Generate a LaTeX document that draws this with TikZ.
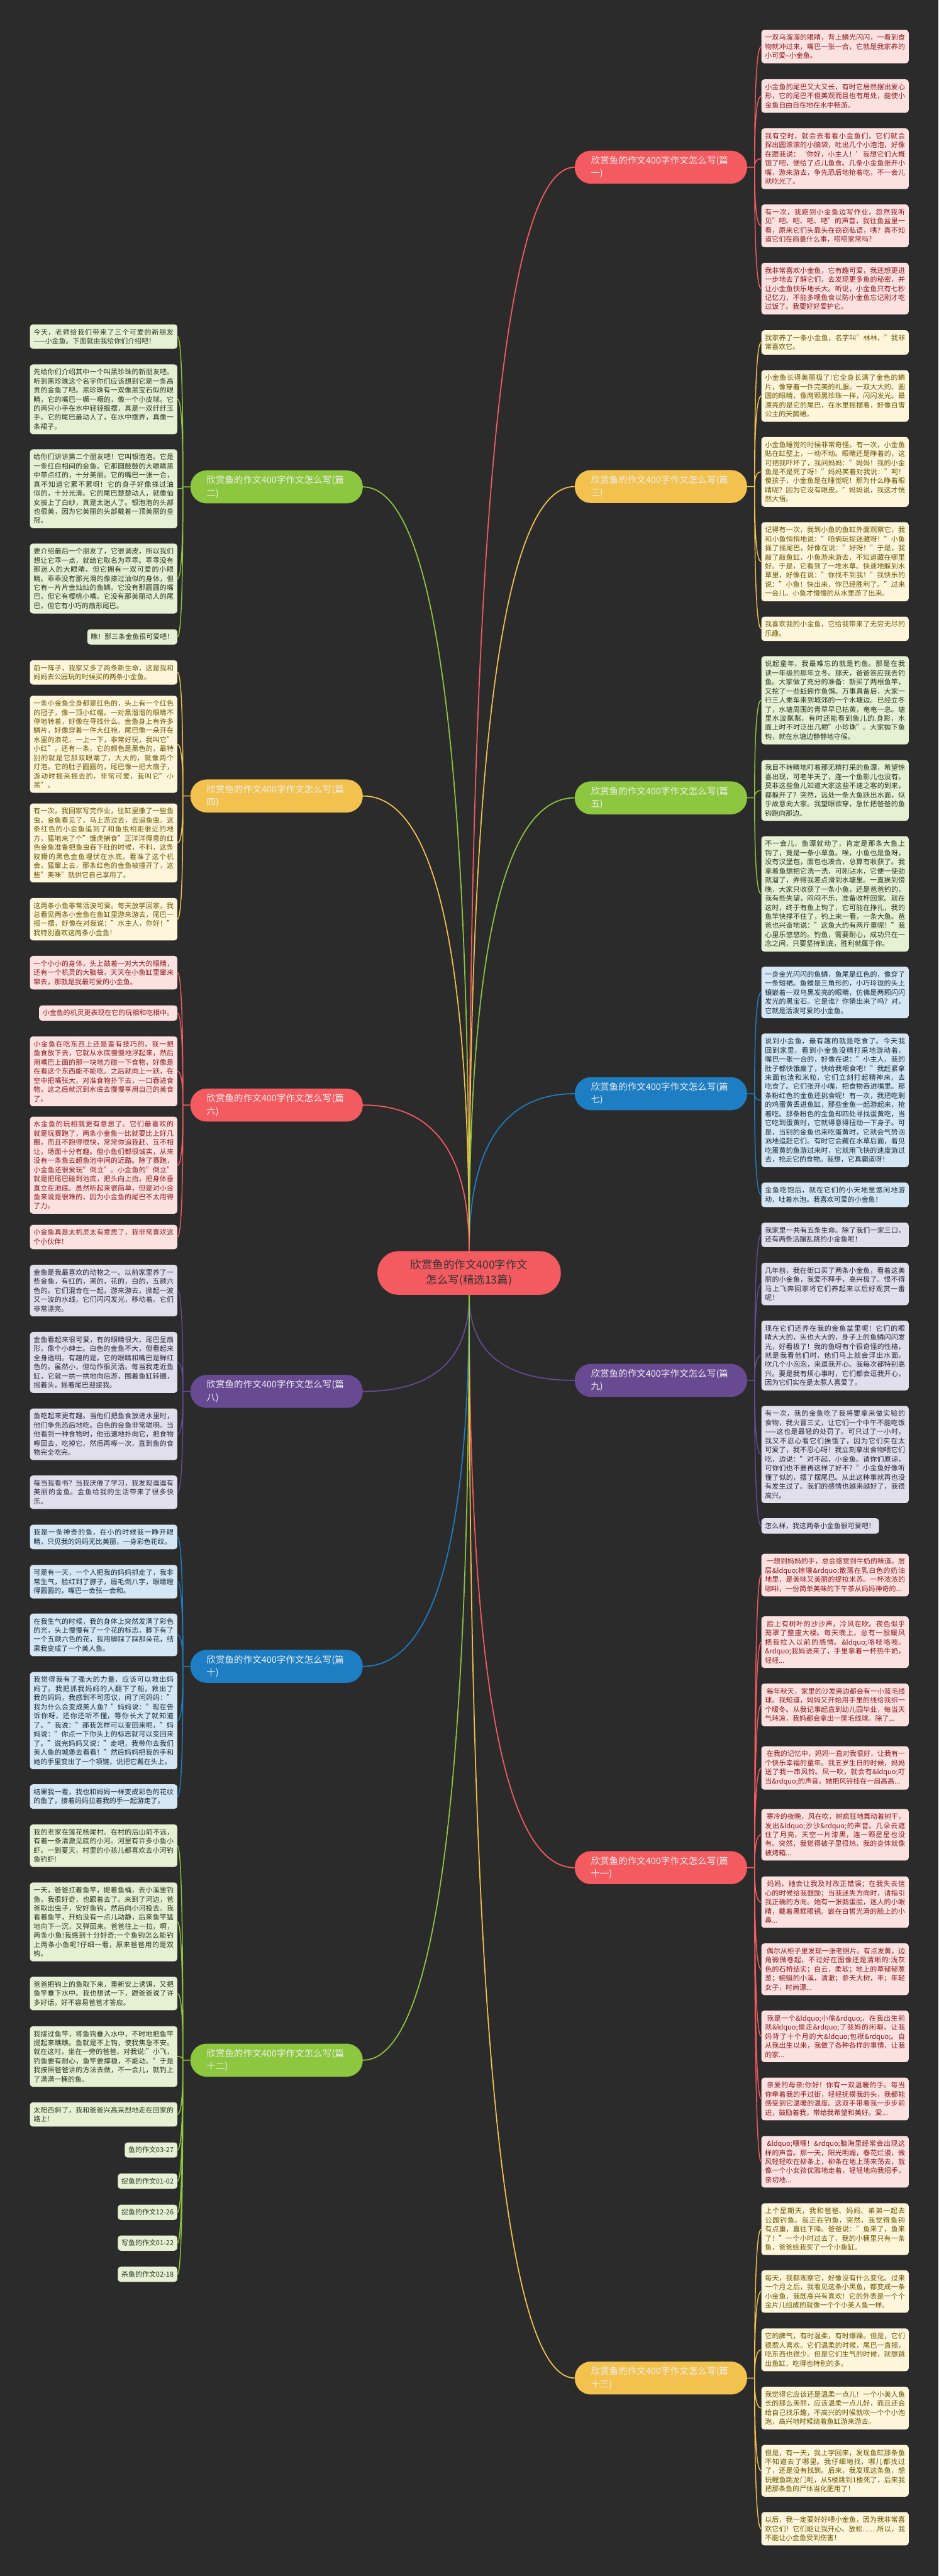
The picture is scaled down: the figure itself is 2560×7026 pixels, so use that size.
\documentclass[tikz,border=0pt]{standalone}
\usepackage{fontspec}
\setmainfont{Noto Sans CJK SC}
\XeTeXlinebreaklocale "zh"
\XeTeXlinebreakskip=0pt plus 1pt
\usetikzlibrary{positioning,calc}

\definecolor{bg}{HTML}{2B2B2B}
\definecolor{lRed}{HTML}{F45B60}
\definecolor{lYel}{HTML}{F2C14E}
\definecolor{lGrn}{HTML}{8DC63F}
\definecolor{lBlu}{HTML}{1D7EC3}
\definecolor{lPur}{HTML}{684A92}
\definecolor{fRed}{HTML}{FCE1E1}
\definecolor{fYel}{HTML}{FEF6DA}
\definecolor{fGrn}{HTML}{E6F1D4}
\definecolor{fBlu}{HTML}{D5E7F5}
\definecolor{fPur}{HTML}{E2DFED}
\definecolor{tRed}{HTML}{8B1A1A}
\definecolor{tYel}{HTML}{6B5300}
\definecolor{tGrn}{HTML}{2A3320}
\definecolor{tBlu}{HTML}{1C2833}
\definecolor{tPur}{HTML}{28243A}

\begin{document}
\begin{tikzpicture}[x=0.5pt,y=-0.5pt,
  leaf/.style={rounded corners=4pt,inner xsep=5pt,inner ysep=6pt,
    font=\fontsize{9.4pt}{12.4pt}\selectfont},
  wide/.style={text width=191pt,align=justify},
  rl/.style={leaf,anchor=west},
  ll/.style={leaf,anchor=east},
  red/.style={fill=fRed,text=tRed},
  yel/.style={fill=fYel,text=tYel},
  grn/.style={fill=fGrn,text=tGrn},
  blu/.style={fill=fBlu,text=tBlu},
  pur/.style={fill=fPur,text=tPur},
  branch/.style={rounded corners=22pt,fill=#1,text=white!94!black,text width=191pt,align=left,
    inner xsep=22pt,inner ysep=6pt,minimum height=45pt,
    font=\fontsize{12.35pt}{17.5pt}\selectfont},
  % centre to branch: vertical first, then into the branch
  trunk/.style={line width=1.5pt,draw=#1,to path={.. controls
    ($(\tikztostart)!.667!(\tikztostart |- \tikztotarget)$) and
    ($(\tikztotarget)!.667!(\tikztostart |- \tikztotarget)$) .. (\tikztotarget)}},
  % branch to leaf, right side and left side
  twigR/.style={line width=1.25pt,draw=#1,to path={-- ++(20,0) coordinate (s) .. controls
    ($(s)!.667!(s |- \tikztotarget)$) and ($(\tikztotarget)!.667!(s |- \tikztotarget)$) .. (\tikztotarget)}},
  twigL/.style={line width=1.25pt,draw=#1,to path={-- ++(-20,0) coordinate (s) .. controls
    ($(s)!.667!(s |- \tikztotarget)$) and ($(\tikztotarget)!.667!(s |- \tikztotarget)$) .. (\tikztotarget)}}]

  % canvas
  \fill[bg] (0,0) rectangle (2560,7026);
  \useasboundingbox (0,0) rectangle (2560,7026);

  % centre
  \node[rounded corners=29pt,fill=lRed,text=black!80,align=center,minimum width=250pt,minimum height=59.5pt,
        inner sep=4pt,font=\fontsize{15pt}{20.5pt}\selectfont]
    (C) at (1279.5,3472) {欣赏鱼的作文400字作文\\怎么写(精选13篇)};

  % branches, right
  \node[branch=lRed,anchor=east] (B1) at (2038,456) {欣赏鱼的作文400字作文怎么写(篇一)};
  \node[branch=lYel,anchor=east] (B3) at (2038,1327) {欣赏鱼的作文400字作文怎么写(篇三)};
  \node[branch=lGrn,anchor=east] (B5) at (2038,2176) {欣赏鱼的作文400字作文怎么写(篇五)};
  \node[branch=lBlu,anchor=east] (B7) at (2038,2983) {欣赏鱼的作文400字作文怎么写(篇七)};
  \node[branch=lPur,anchor=east] (B9) at (2038,3765) {欣赏鱼的作文400字作文怎么写(篇九)};
  \node[branch=lRed,anchor=east] (B11) at (2038,5094) {欣赏鱼的作文400字作文怎么写(篇十一)};
  \node[branch=lYel,anchor=east] (B13) at (2038,6486) {欣赏鱼的作文400字作文怎么写(篇十三)};

  % branches, left
  \node[branch=lGrn,anchor=west] (B2) at (519,1328) {欣赏鱼的作文400字作文怎么写(篇二)};
  \node[branch=lYel,anchor=west] (B4) at (519,2171) {欣赏鱼的作文400字作文怎么写(篇四)};
  \node[branch=lRed,anchor=west] (B6) at (519,3014) {欣赏鱼的作文400字作文怎么写(篇六)};
  \node[branch=lPur,anchor=west] (B8) at (519,3795) {欣赏鱼的作文400字作文怎么写(篇八)};
  \node[branch=lBlu,anchor=west] (B10) at (519,4545) {欣赏鱼的作文400字作文怎么写(篇十)};
  \node[branch=lGrn,anchor=west] (B12) at (519,5619) {欣赏鱼的作文400字作文怎么写(篇十二)};

  % 篇一
  \node[rl,wide,red] (R1a) at (2076,127) {一双乌溜溜的眼睛，背上鳞光闪闪，一看到食物就冲过来，嘴巴一张一合，它就是我家养的小可爱--小金鱼。};
  \node[rl,wide,red] (R1b) at (2076,262) {小金鱼的尾巴又大又长，有时它居然摆出爱心形，它的尾巴不但美观而且也有用处，能使小金鱼自由自在地在水中畅游。};
  \node[rl,wide,red] (R1c) at (2076,433) {我有空时，就会去看看小金鱼们，它们就会探出圆滚滚的小脑袋，吐出几个小泡泡，好像在跟我说：‘你好，小主人！’我想它们大概饿了吧，便给了点儿鱼食。几条小金鱼张开小嘴，游来游去，争先恐后地抢着吃，不一会儿就吃光了。};
  \node[rl,wide,red] (R1d) at (2076,616) {有一次，我跑到小金鱼边写作业，忽然我听见"吧、吧、吧、吧"的声音，我往鱼盆里一看，原来它们头靠头在窃窃私语，咦？真不知道它们在商量什么事，唠唠家常吗？};
  \node[rl,wide,red] (R1e) at (2076,787) {我非常喜欢小金鱼，它有趣可爱，我还想更进一步地去了解它们，去发现更多鱼的秘密，并让小金鱼快乐地长大。听说，小金鱼只有七秒记忆力，不能多喂鱼食以防小金鱼忘记刚才吃过饭了。我要好好爱护它。};

  % 篇三
  \node[rl,wide,yel] (R3a) at (2076,934) {我家养了一条小金鱼，名字叫"林林，"我非常喜欢它。};
  \node[rl,wide,yel] (R3b) at (2076,1080) {小金鱼长得美丽极了!它全身长满了金色的鳞片，像穿着一件完美的礼服。一双大大的、圆圆的眼睛，像两颗黑珍珠一样，闪闪发光。最漂亮的是它的尾巴，在水里摇摆着，好像白雪公主的天鹅裙。};
  \node[rl,wide,yel] (R3c) at (2076,1287) {小金鱼睡觉的时候非常奇怪。有一次，小金鱼贴在缸壁上，一动不动。眼睛还是睁着的，这可把我吓坏了，我问妈妈："妈妈！我的小金鱼是不是死了呀！"妈妈笑着对我说："呵！傻孩子，小金鱼是在睡觉呢！那为什么睁着眼睛呢？因为它没有眼皮。"妈妈说，我这才恍然大悟。};
  \node[rl,wide,yel] (R3d) at (2076,1532) {记得有一次，我到小鱼的鱼缸外面观察它，我和小鱼悄悄地说："咱俩玩捉迷藏呀！"小鱼摇了摇尾巴，好像在说："好呀！"于是，我敲了敲鱼缸，小鱼游来游去，不知道藏在哪里好。于是，它看到了一堆水草。快速地躲到水草里，好像在说："你找不到我！"我快乐的说："小鱼！快出来，你已经胜利了。"过来一会儿，小鱼才慢慢的从水里游了出来。};
  \node[rl,wide,yel] (R3e) at (2076,1715) {我喜欢我的小金鱼，它给我带来了无穷无尽的乐趣。};

  % 篇五
  \node[rl,wide,grn] (R5a) at (2076,1910) {说起童年，我最难忘的就是钓鱼。那是在我读一年级的那年立冬。那天，爸爸答应我去钓鱼。大家做了充分的准备：新买了两根鱼竿，又挖了一些蚯蚓作鱼饵。万事具备后，大家一行三人乘车来到城郊的一个水塘边。已经立冬了，水塘周围的青草早已枯黄，奄奄一息。塘里水波粼粼，有时还能看到鱼儿的.身影，水面上时不时泛出几颗"小珍珠"。大家抛下鱼钩，就在水塘边静静地守候。};
  \node[rl,wide,grn] (R5b) at (2076,2156) {我目不转睛地盯着那无精打采的鱼漂，希望惊喜出现，可老半天了，连一个鱼影儿也没有。莫非这些鱼儿知道大家这些不速之客的到来，都躲开了？突然，远处一条大鱼跃出水面，似乎故意向大家。我望眼欲穿，急忙把爸爸的鱼钩跑向那边。};
  \node[rl,wide,grn] (R5c) at (2076,2438) {不一会儿，鱼漂就动了，肯定是那条大鱼上钩了，竟是一条小草鱼。唉，小鱼也是鱼呀，没有汉堡包，面包也凑合，总算有收获了。我拿着鱼想把它洗一洗，可刚沾水，它便一使劲就溜了，弄得我差点滑到水塘里。一直挨到傍晚，大家只收获了一条小鱼，还是爸爸钓的，我有些失望，闷闷不乐，准备收杆回家。就在这时，终于有鱼上钩了，它可能在挣扎，我的鱼竿快撑不住了，钓上来一看，一条大鱼。爸爸也兴奋地说："这鱼大约有两斤重呢！"我心里乐悠悠的。钓鱼，需要耐心，成功只在一念之间，只要坚持到底，胜利就属于你。};

  % 篇七
  \node[rl,wide,blu] (R7a) at (2076,2707) {一身金光闪闪的鱼鳞，鱼尾是红色的，像穿了一条短裙。鱼鳍是三角形的，小巧玲珑的头上镶嵌着一双乌黑发亮的眼睛，仿佛是两颗闪闪发光的黑宝石。它是谁？你猜出来了吗？对，它就是活泼可爱的小金鱼。};
  \node[rl,wide,blu] (R7b) at (2076,3001) {说到小金鱼，最有趣的就是吃食了。今天我回到家里，看到小金鱼没精打采地游动着，嘴巴一张一合的，好像在说："小主人，我的肚子都快饿扁了，快给我喂食吧！"我赶紧拿来面包渣和米粒，它们立刻打起精神来，去吃食了。它们张开小嘴，把食物吞进嘴里。那条粉红色的金鱼还挑食呢！有一次，我把吃剩的鸡蛋黄丢进鱼缸，那些金鱼一起游起来，抢着吃。那条粉色的金鱼却四处寻找蛋黄吃，当它吃到蛋黄时，它就得意得扭动一下身子。可是，当别的金鱼也来吃蛋黄时，它就会气势汹汹地追赶它们。有时它会藏在水草后面，看见吃蛋黄的鱼游过来时，它就用飞快的速度游过去，抢走它的食物。我想，它真霸道呀！};
  \node[rl,wide,blu] (R7c) at (2076,3259) {金鱼吃饱后，就在它们的小天地里悠闲地游动，吐着水泡。我喜欢可爱的小金鱼！};

  % 篇九
  \node[rl,wide,pur] (R9a) at (2076,3368) {我家里一共有五条生命。除了我们一家三口，还有两条活蹦乱跳的小金鱼呢！};
  \node[rl,wide,pur] (R9b) at (2076,3502) {几年前，我在街口买了两条小金鱼，看着这美丽的小金鱼，我爱不释手，高兴极了。恨不得马上飞奔回家将它们养起来以后好观赏一番呢！};
  \node[rl,wide,pur] (R9c) at (2076,3697) {现在它们还养在我的金鱼盆里呢！它们的眼睛大大的，头也大大的，身子上的鱼鳞闪闪发光，好看极了！我的鱼呀有个很奇怪的性格，就是我看他们时，他们马上就会浮出水面，吹几个小泡泡，来逗我开心。我每次都特别高兴。要是我有烦心事时，它们都会逗我开心，因为它们实在是太惹人喜爱了。};
  \node[rl,wide,pur] (R9d) at (2076,3967) {有一次，我的金鱼吃了我将要拿来做实验的食物，我火冒三丈，让它们一个中午不能吃饭——这也是最轻的处罚了。可只过了一小时，我又不忍心看它们挨饿了，因为它们实在太可爱了，我不忍心呀！我立刻拿出食物喂它们吃，边说："对不起，小金鱼。请你们原谅，可你们也不要再这样了好不？"小金鱼好像听懂了似的，摆了摆尾巴。从此这种事就再也没有发生过了。我们的感情也越来越好了，我很高兴。};
  \node[rl,pur] (R9e) at (2076,4162) {怎么样，我这两条小金鱼很可爱吧！};

  % 篇十一
  \node[rl,wide,red] (R11a) at (2076,4296) {~一想到妈妈的手，总会感觉到牛奶的味道。层层\&ldquo;棕壤\&rdquo;散落在乳白色的奶油地里，是美味又美丽的提拉米苏。一杯浓浓的咖啡，一份简单美味的下午茶从妈妈神奇的...};
  \node[rl,wide,red] (R11b) at (2076,4479) {~脸上有树叶的沙沙声，冷风在吹。夜色似乎笼罩了整座大楼。每天晚上，总有一股暖风把我拉入以前的感情。\&ldquo;咯吱咯吱。\&rdquo;我妈进来了，手里拿着一杯热牛奶，轻轻...};
  \node[rl,wide,red] (R11c) at (2076,4650) {~每年秋天，家里的沙发旁边都会有一小篮毛线球。我知道，妈妈又开始用手里的线给我织一个暖冬。从我记事起直到幼儿园毕业，每当天气转凉，我妈都会拿出一筐毛线球。除了...};
  \node[rl,wide,red] (R11d) at (2076,4822) {~在我的记忆中，妈妈一直对我很好，让我有一个快乐幸福的童年。我五岁生日的时候，妈妈送了我一串风铃。风一吹，就会有\&ldquo;叮当\&rdquo;的声音。她把风铃挂在一扇高高...};
  \node[rl,wide,red] (R11e) at (2076,5004) {~寒冷的夜晚，风在吹，树疯狂地舞动着树干，发出\&ldquo;沙沙\&rdquo;的声音。几朵云遮住了月亮，天空一片漆黑，连一颗星星也没有。突然，我觉得被子里很热，我的身体就像被烤箱...};
  \node[rl,wide,red] (R11f) at (2076,5188) {~妈妈，她会让我及时改正错误；在我失去信心的时候给我鼓励；当我迷失方向时，请指引我正确的方向。她有一张鹅蛋脸，迷人的小眼睛，戴着黑框眼镜。嵌在白皙光滑的脸上的小鼻...};
  \node[rl,wide,red] (R11g) at (2076,5371) {~偶尔从柜子里发现一张老照片。有点发黄，边角微微卷起，不过好在图像还是清晰的:浅灰色的石桥结实；白云，柔软；地上的草郁郁葱葱；蜿蜒的小溪，清澈；参天大树，丰；年轻女子，时尚漂...};
  \node[rl,wide,red] (R11h) at (2076,5554) {~我是一个\&ldquo;小偷\&rdquo;，在我出生前就\&ldquo;偷走\&rdquo;了我妈的闲暇，让我妈背了十个月的大\&ldquo;包袱\&rdquo;。自从我出生以来，我做了各种各样的事情，让我的家...};
  \node[rl,wide,red] (R11i) at (2076,5725) {~亲爱的母亲:你好！你有一双温暖的手。每当你牵着我的手过街，轻轻抚摸我的头，我都能感受到它温暖的温度。这双手带着我一步步前进，鼓励着我，带给我希望和美好。爱...};
  \node[rl,wide,red] (R11j) at (2076,5896) {~\&ldquo;嘿嘿！\&rdquo;脑海里经常会出现这样的声音。那一天，阳光明媚，春花烂漫，微风轻轻吹在柳条上，柳条在地上荡来荡去，就像一个小女孩优雅地走着，轻轻地向我招手，亲切地...};

  % 篇十三
  \node[rl,wide,yel] (R13a) at (2076,6080) {上个星期天，我和爸爸、妈妈、弟弟一起去公园钓鱼。我正在钓鱼，突然，我觉得鱼钩有点重，直往下降。爸爸说："鱼来了，鱼来了！"一个小时过去了，我的小桶里只有一条鱼，爸爸给我买了一个小鱼缸。};
  \node[rl,wide,yel] (R13b) at (2076,6250) {每天，我都观察它，好像没有什么变化。过来一个月之后，我看见这条小黑鱼，都变成一条小金鱼，我既高兴有喜欢！它的外表是一个个金片儿组成的就像一个个小美人鱼一样。};
  \node[rl,wide,yel] (R13c) at (2076,6409) {它的脾气，有时温柔，有时爆躁。但是，它们很惹人喜欢。它们温柔的时候，尾巴一直摇，吃东西也很少。但是它们生气的时候，就想跳出鱼缸，吃得也特别的多。};
  \node[rl,wide,yel] (R13d) at (2076,6568) {我觉得它应该还是温柔一点儿！一个小美人鱼长的那么美丽，应该温柔一点儿好，而且还会给自己找乐趣，不高兴的时候就吹一个个小泡泡，高兴地时候绕着鱼缸游来游去。};
  \node[rl,wide,yel] (R13e) at (2076,6739) {但是，有一天，我上学回来，发现鱼缸那条鱼不知道去了哪里。我仔细地找，哪儿都找过了，还是没有找到。后来，我发现这条鱼，想玩鲤鱼跳龙门呢，从5楼跳到1楼死了，后来我把那条鱼的尸体当化肥用了！};
  \node[rl,wide,yel] (R13f) at (2076,6897) {以后，我一定要好好喂小金鱼，因为我非常喜欢它们！它们能让我开心、放松……所以，我不能让小金鱼受到伤害！};

  % 篇二
  \node[ll,wide,grn] (L2a) at (484,918) {今天，老师给我们带来了三个可爱的新朋友——小金鱼。下面就由我给你们介绍吧！};
  \node[ll,wide,grn] (L2b) at (484,1089) {先给你们介绍其中一个叫黑珍珠的新朋友吧。听到黑珍珠这个名字你们应该想到它是一条高贵的金鱼了吧。黑珍珠有一双像黑宝石似的眼睛，它的嘴巴一噘一噘的，像一个小皮球。它的两只小手在水中轻轻摇摆，真是一双纤纤玉手。它的尾巴最动人了，在水中摆弄，真像一条裙子。};
  \node[ll,wide,grn] (L2c) at (484,1333) {给你们讲讲第二个朋友吧！它叫银泡泡。它是一条红白相间的金鱼。它那圆鼓鼓的大眼睛黑中带点红的，十分美丽。它的嘴巴一张一合，真不知道它累不累呀！它的身子好像搽过油似的，十分光滑。它的尾巴楚楚动人，就像仙女披上了白纱，真是太迷人了。银泡泡的头部也很美，因为它美丽的头部戴着一顶美丽的皇冠。};
  \node[ll,wide,grn] (L2d) at (484,1578) {要介绍最后一个朋友了，它很调皮，所以我们想让它乖一点，就给它取名为乖乖。乖乖没有那迷人的大眼睛，但它拥有一双可爱的小眼睛。乖乖没有那光滑的像搽过油似的身体，但它有一片片金灿灿的鱼鳞。它没有那圆圆的嘴巴，但它有樱桃小嘴。它没有那美丽动人的尾巴，但它有小巧的扇形尾巴。};
  \node[ll,grn] (L2e) at (484,1737) {瞧！那三条金鱼很可爱吧！};

  % 篇四
  \node[ll,wide,yel] (L4a) at (484,1834) {前一阵子，我家又多了两条新生命，这是我和妈妈去公园玩的时候买的两条小金鱼。};
  \node[ll,wide,yel] (L4b) at (484,2030) {一条小金鱼全身都是红色的，头上有一个红色的冠子，像一顶小红帽。一对黑溜溜的眼睛不停地转着，好像在寻找什么。金鱼身上有许多鳞片，好像穿着一件大红袍，尾巴像一朵开在水里的浪花，一上一下，非常好玩，我叫它"小红"。还有一条，它的颜色是黑色的，最特别的就是它那双眼睛了，大大的，就像两个灯泡。它的肚子圆圆的，尾巴像一把大扇子，游动时摇来摇去的，非常可爱，我叫它"小黑"。};
  \node[ll,wide,yel] (L4c) at (484,2299) {有一次，我回家写完作业，往缸里撒了一些鱼虫，金鱼看见了，马上游过去，去追鱼虫。这条红色的小金鱼追到了和鱼虫相距很近的地方，猛地来了个"饿虎捕食"正洋洋得意的红色金鱼准备把鱼虫吞下肚的时候，不料，这条狡猾的黑色金鱼埋伏在水底，看准了这个机会，猛窜上去，那条红色的金鱼被撞开了，这些"美味"就供它自己享用了。};
  \node[ll,wide,yel] (L4d) at (484,2507) {这两条小鱼非常活波可爱。每天放学回家，我总看见两条小金鱼在鱼缸里游来游去，尾巴一摇一摆，好像在对我说："水主人，你好！"我特别喜欢这两条小金鱼！};

  % 篇六
  \node[ll,wide,red] (L6a) at (484,2653) {一个小小的身体，头上鼓着一对大大的眼睛，还有一个机灵的大脑袋，天天在小鱼缸里窜来窜去，那就是我最可爱的小金鱼。};
  \node[ll,red] (L6b) at (484,2763) {小金鱼的机灵更表现在它的玩相和吃相中。};
  \node[ll,wide,red] (L6c) at (484,2922) {小金鱼在吃东西上还是蛮有技巧的，我一把鱼食放下去，它就从水底慢慢地浮起来，然后用嘴巴上面的那一块地方碰一下食物，好像是在看这个东西能不能吃。之后就向上一跃，在空中把嘴张大，对准食物扑下去，一口吞进食物，这之后就沉到水底去慢慢享用自己的美食了。};
  \node[ll,wide,red] (L6d) at (484,3178) {水金鱼的玩相就更有意思了。它们最喜欢的就是玩赛跑了，两条小金鱼一比就要比上好几圈，而且不跑得很快，常常你追我赶、互不相让，场面十分有趣。但小鱼们都很诚实，从来没有一条鱼去超鱼池中间的近路。除了赛跑，小金鱼还很爱玩"倒立"。小金鱼的"倒立"就是把尾巴碰到池底，把头向上抬，把身体垂直立在池底。虽然听起来很简单，但是对小金鱼来说是很难的，因为小金鱼的尾巴不太用得了力。};
  \node[ll,wide,red] (L6e) at (484,3374) {小金鱼真是太机灵太有意思了，我非常喜欢这个小伙伴！};

  % 篇八
  \node[ll,wide,pur] (L8a) at (484,3520) {金鱼是我最喜欢的动物之一。以前家里养了一些金鱼，有红的，黑的，花的，白的，五颜六色的。它们混合在一起，游来游去，掀起一波又一波的水线，它们闪闪发光，移动着。它们非常漂亮。};
  \node[ll,wide,pur] (L8b) at (484,3716) {金鱼看起来很可爱，有的眼睛很大，尾巴呈扇形，像个小绅士。白色的金鱼不大，但看起来全身透明。有趣的是，它的眼睛和嘴巴是鲜红色的。虽然小，但动作很灵活。每当我走近鱼缸，它就一拱一拱地向后游，围着鱼缸转圈，摇着头，摇着尾巴迎接我。};
  \node[ll,wide,pur] (L8c) at (484,3912) {鱼吃起来更有趣。当他们把鱼食放进水里时，他们争先恐后地吃。白色的金鱼非常聪明。当他看到一种食物时，他迅速地扑向它，把食物啄回去，吃掉它，然后再啄一次，直到鱼的食物完全吃完。};
  \node[ll,wide,pur] (L8d) at (484,4070) {每当我看书？当我厌倦了学习，我发现逗逗有美丽的金鱼。金鱼给我的生活带来了很多快乐。};

  % 篇十
  \node[ll,wide,blu] (L10a) at (484,4192) {我是一条神奇的鱼，在小的时候我一睁开眼睛，只见我的妈妈无比美丽，一身彩色花纹。};
  \node[ll,wide,blu] (L10b) at (484,4314) {可是有一天，一个人把我的妈妈抓走了，我非常生气，脸红到了脖子，眉毛倒八字，眼睛瞪得圆圆的，嘴巴一会张一会和。};
  \node[ll,wide,blu] (L10c) at (484,4459) {在我生气的时候，我的身体上突然发满了彩色的光，头上慢慢有了一个花的标志，脚下有了一个五颜六色的花，我用脚踩了踩那朵花，结果我变成了一个美人鱼。};
  \node[ll,wide,blu] (L10d) at (484,4693) {我觉得我有了强大的力量，应该可以救出妈妈了。我把抓我妈妈的人翻下了船，救出了我的妈妈，我感到不可思议，问了问妈妈："我为什么会变成美人鱼？"妈妈说："现在告诉你呀，还你还听不懂，等你长大了就知道了。"我说："那我怎样可以变回来呢，"妈妈说："你点一下你头上的标志就可以变回来了。"说完妈妈又说："走吧，我带你去我们美人鱼的城堡去看看！"然后妈妈把我的手和她的手里变出了一个项链，说把它戴在头上。};
  \node[ll,wide,blu] (L10e) at (484,4900) {结果我一看，我也和妈妈一样变成彩色的花纹的鱼了，接着妈妈拉着我的手一起游走了。};

  % 篇十二
  \node[ll,wide,grn] (L12a) at (484,5034) {我的老家在莲花杨尾村。在村的后山前不远，有着一条清澈见底的小河。河里有许多小鱼小虾。一到夏天，村里的小孩儿都喜欢去小河钓鱼钓虾!};
  \node[ll,wide,grn] (L12b) at (484,5242) {一天，爸爸扛着鱼竿，提着鱼桶，去小溪里钓鱼，我很好奇，也跟着去了。来到了河边，爸爸取出虫子，安好鱼钩，然后向小河投去。我看着鱼竿，开始没有一点儿动静，后来鱼竿猛地向下一沉，又弹回来。爸爸往上一拉，啊，两条小鱼!我感到十分好奇:一个鱼钩怎么能钓上两条小鱼呢?仔细一看，原来爸爸用的是双钩。};
  \node[ll,wide,grn] (L12c) at (484,5437) {爸爸把钩上的鱼取下来，重新安上诱饵，又把鱼竿垂下水中。我也想试一下，跟爸爸说了许多好话，好不容易爸爸才答应。};
  \node[ll,wide,grn] (L12d) at (484,5609) {我接过鱼竿，将鱼钩垂入水中，不时地把鱼竿提起来瞧瞧。鱼就是不上钩，使我焦急不安。就在这时，坐在一旁的爸爸，对我说:"小飞，钓鱼要有耐心，鱼竿要撑稳，不能动。"于是我按照爸爸讲的方法去做，不一会儿，就钓上了满满一桶的鱼。};
  \node[ll,wide,grn] (L12e) at (484,5767) {太阳西斜了，我和爸爸兴高采烈地走在回家的路上!};
  \node[ll,grn] (L12f) at (484,5864) {鱼的作文03-27};
  \node[ll,grn] (L12g) at (484,5949) {捉鱼的作文01-02};
  \node[ll,grn] (L12h) at (484,6034) {捉鱼的作文12-26};
  \node[ll,grn] (L12i) at (484,6118) {写鱼的作文01-22};
  \node[ll,grn] (L12j) at (484,6203) {杀鱼的作文02-18};

  % centre to branches
  \draw[trunk=lRed] (C.north) to (B1.west);
  \draw[trunk=lYel] (C.north) to (B3.west);
  \draw[trunk=lGrn] (C.north) to (B5.west);
  \draw[trunk=lBlu] (C.north) to (B7.west);
  \draw[trunk=lPur] (C.south) to (B9.west);
  \draw[trunk=lRed] (C.south) to (B11.west);
  \draw[trunk=lYel] (C.south) to (B13.west);
  \draw[trunk=lGrn] (C.north) to (B2.east);
  \draw[trunk=lYel] (C.north) to (B4.east);
  \draw[trunk=lRed] (C.north) to (B6.east);
  \draw[trunk=lPur] (C.south) to (B8.east);
  \draw[trunk=lBlu] (C.south) to (B10.east);
  \draw[trunk=lGrn] (C.south) to (B12.east);

  % branches to leaves, right
  \draw[twigR=lRed] (B1.east) to (R1a.west) (B1.east) to (R1b.west) (B1.east) to (R1c.west)
    (B1.east) to (R1d.west) (B1.east) to (R1e.west);
  \draw[twigR=lYel] (B3.east) to (R3a.west) (B3.east) to (R3b.west) (B3.east) to (R3c.west)
    (B3.east) to (R3d.west) (B3.east) to (R3e.west);
  \draw[twigR=lGrn] (B5.east) to (R5a.west) (B5.east) to (R5b.west) (B5.east) to (R5c.west);
  \draw[twigR=lBlu] (B7.east) to (R7a.west) (B7.east) to (R7b.west) (B7.east) to (R7c.west);
  \draw[twigR=lPur] (B9.east) to (R9a.west) (B9.east) to (R9b.west) (B9.east) to (R9c.west)
    (B9.east) to (R9d.west) (B9.east) to (R9e.west);
  \draw[twigR=lRed] (B11.east) to (R11a.west) (B11.east) to (R11b.west) (B11.east) to (R11c.west)
    (B11.east) to (R11d.west) (B11.east) to (R11e.west) (B11.east) to (R11f.west)
    (B11.east) to (R11g.west) (B11.east) to (R11h.west) (B11.east) to (R11i.west)
    (B11.east) to (R11j.west);
  \draw[twigR=lYel] (B13.east) to (R13a.west) (B13.east) to (R13b.west) (B13.east) to (R13c.west)
    (B13.east) to (R13d.west) (B13.east) to (R13e.west) (B13.east) to (R13f.west);

  % branches to leaves, left
  \draw[twigL=lGrn] (B2.west) to (L2a.east) (B2.west) to (L2b.east) (B2.west) to (L2c.east)
    (B2.west) to (L2d.east) (B2.west) to (L2e.east);
  \draw[twigL=lYel] (B4.west) to (L4a.east) (B4.west) to (L4b.east) (B4.west) to (L4c.east)
    (B4.west) to (L4d.east);
  \draw[twigL=lRed] (B6.west) to (L6a.east) (B6.west) to (L6b.east) (B6.west) to (L6c.east)
    (B6.west) to (L6d.east) (B6.west) to (L6e.east);
  \draw[twigL=lPur] (B8.west) to (L8a.east) (B8.west) to (L8b.east) (B8.west) to (L8c.east)
    (B8.west) to (L8d.east);
  \draw[twigL=lBlu] (B10.west) to (L10a.east) (B10.west) to (L10b.east) (B10.west) to (L10c.east)
    (B10.west) to (L10d.east) (B10.west) to (L10e.east);
  \draw[twigL=lGrn] (B12.west) to (L12a.east) (B12.west) to (L12b.east) (B12.west) to (L12c.east)
    (B12.west) to (L12d.east) (B12.west) to (L12e.east) (B12.west) to (L12f.east)
    (B12.west) to (L12g.east) (B12.west) to (L12h.east) (B12.west) to (L12i.east)
    (B12.west) to (L12j.east);
\end{tikzpicture}
\end{document}
